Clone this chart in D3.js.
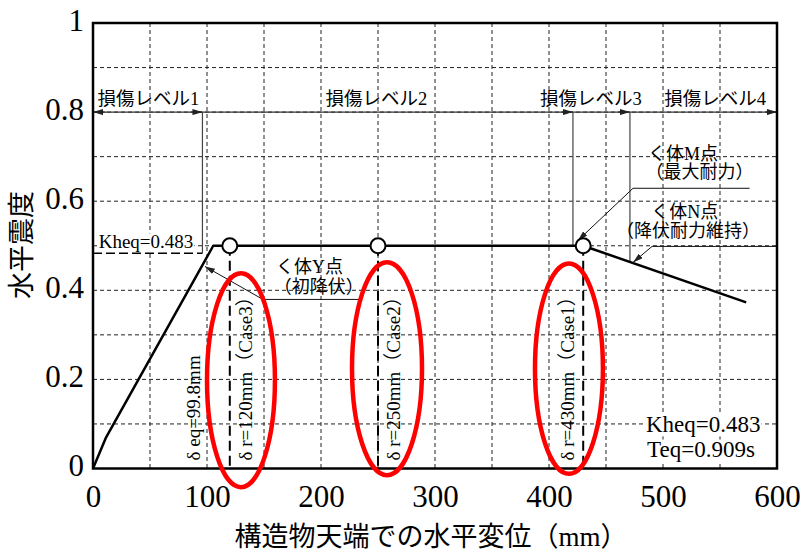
<!DOCTYPE html>
<html>
<head>
<meta charset="utf-8">
<script src="https://cdn.jsdelivr.net/npm/d3@7"></script>
<style>
    body { margin: 0; background: #fff; }
    text { font-family: "Liberation Serif", "Noto Sans CJK JP", serif; fill: #000; }
</style>
</head>
<body>
<svg id="chart" width="802" height="554"></svg>
<script>
// Load-displacement curve (top displacement mm, seismic coefficient)
const curveDisp = [0, 11.5, 105.5, 120, 250, 430, 573];
const curveK = [0, 0.07, 0.5, 0.5, 0.5, 0.5, 0.373];

// Marked points (Case3, Case2, Case1)
const pointDisp = [120, 250, 430];
const pointK = [0.5, 0.5, 0.5];
const caseNames = ["Case3", "Case2", "Case1"];

// Equivalent values
const deq = 99.8;
const kheq = 0.483;
const teq = 0.909;

// Damage levels
const levelNames = ["損傷レベル1", "損傷レベル2", "損傷レベル3", "損傷レベル4"];
const levelBounds = [96, 421, 471];
const levelBoundEndK = [0.483, 0.5, 0.464];
const levelLineK = 0.8;

// Red ellipses around cases (data units)
const ellipseCx = [129.8, 257.9, 417.5];
const ellipseCy = [0.198, 0.224, 0.224];
const ellipseRx = [29.8, 30.7, 29.8];
const ellipseRy = [0.240, 0.239, 0.236];

// Axis ticks
const xTicks = [0, 100, 200, 300, 400, 500, 600];
const yTicks = [0, 0.2, 0.4, 0.6, 0.8, 1];
const yTickLabels = ["0", "0.2", "0.4", "0.6", "0.8", "1"];
const xGrid = d3.range(50, 600, 50);
const yGrid = d3.range(1, 10).map(i => i / 10);

const margin = { top: 23, left: 93 },
      width = 684,
      height = 445.5;

const svg = d3.select("#chart");
svg.append("rect").attr("width", 802).attr("height", 554).attr("fill", "#fff");

const defs = svg.append("defs");
defs.append("marker")
    .attr("id", "arr")
    .attr("viewBox", "0 0 10 6")
    .attr("refX", 10).attr("refY", 3)
    .attr("markerWidth", 10).attr("markerHeight", 6)
    .attr("markerUnits", "userSpaceOnUse")
    .attr("orient", "auto")
    .append("path").attr("d", "M0,0 L10,3 L0,6 z").attr("fill", "#222");

const g = svg.append("g").attr("transform", `translate(${margin.left},${margin.top})`);

const x = d3.scaleLinear().domain([0, 600]).range([0, width]);
const y = d3.scaleLinear().domain([0, 1]).range([height, 0]);

// Grid
g.append("g").selectAll("line").data(xGrid).enter().append("line")
    .attr("x1", d => x(d)).attr("x2", d => x(d))
    .attr("y1", 0).attr("y2", height)
    .attr("stroke", "#222").attr("stroke-width", 1).attr("stroke-dasharray", "4,3");
g.append("g").selectAll("line").data(yGrid).enter().append("line")
    .attr("x1", 0).attr("x2", width)
    .attr("y1", d => y(d)).attr("y2", d => y(d))
    .attr("stroke", "#222").attr("stroke-width", 1).attr("stroke-dasharray", "4,3");

// Kheq dashed line
g.append("line")
    .attr("x1", 0).attr("x2", x(levelBounds[0]))
    .attr("y1", y(kheq)).attr("y2", y(kheq))
    .attr("stroke", "#000").attr("stroke-width", 1.5).attr("stroke-dasharray", "9,4");

// Damage level line with arrows
g.append("line")
    .attr("x1", 0).attr("x2", width)
    .attr("y1", y(levelLineK)).attr("y2", y(levelLineK))
    .attr("stroke", "#333").attr("stroke-width", 1.2);

const arrowX = [0].concat(levelBounds, [600]);
const arrowDir = [-1, 1, 1, 1, 1];
arrowX.forEach((d, i) => {
    g.append("line")
        .attr("x1", x(d) - arrowDir[i] * 12).attr("x2", x(d))
        .attr("y1", y(levelLineK)).attr("y2", y(levelLineK))
        .attr("stroke", "#333").attr("stroke-width", 1.2)
        .attr("marker-end", "url(#arr)");
});

levelBounds.forEach((d, i) => {
    g.append("line")
        .attr("x1", x(d)).attr("x2", x(d))
        .attr("y1", y(levelLineK)).attr("y2", y(levelBoundEndK[i]))
        .attr("stroke", "#444").attr("stroke-width", 1.2);
});

const levelLabelX = [4, 204, 392, 501];
levelNames.forEach((d, i) => {
    g.append("text")
        .attr("x", x(levelLabelX[i])).attr("y", y(0.816))
        .attr("font-size", 18.5)
        .text(d);
});

// Case dashed verticals
pointDisp.forEach((d, i) => {
    g.append("line")
        .attr("x1", x(d)).attr("x2", x(d))
        .attr("y1", y(pointK[i])).attr("y2", height)
        .attr("stroke", "#000").attr("stroke-width", 2).attr("stroke-dasharray", "10,5");
});

// Curve
const line = d3.line().x((d, i) => x(curveDisp[i])).y(d => y(d));
g.append("path")
    .datum(curveK)
    .attr("d", line)
    .attr("fill", "none")
    .attr("stroke", "#000")
    .attr("stroke-width", 2.5)
    .attr("stroke-linejoin", "round");

// Callouts
const callouts = [
    { tip: [98.2, 0.4536], elbow: [149.1, 0.3795], end: 236,
      lines: [{ t: "く体Y点", x: 190, k: 0.438 }, { t: "（初降伏）", x: 198, k: 0.395 }] },
    { tip: [425.4, 0.512], elbow: [473.7, 0.629], end: 576,
      lines: [{ t: "く体M点", x: 517.5, k: 0.692 }, { t: "（最大耐力）", x: 532, k: 0.651 }] },
    { tip: [473.7, 0.4626], elbow: [490.4, 0.4985], end: 600,
      lines: [{ t: "く体N点", x: 519, k: 0.5614 }, { t: "（降伏耐力維持）", x: 522, k: 0.5187 }] }
];
callouts.forEach(c => {
    g.append("line")
        .attr("x1", x(c.elbow[0])).attr("x2", x(c.end))
        .attr("y1", y(c.elbow[1])).attr("y2", y(c.elbow[1]))
        .attr("stroke", "#111").attr("stroke-width", 1);
    g.append("line")
        .attr("x1", x(c.elbow[0])).attr("y1", y(c.elbow[1]))
        .attr("x2", x(c.tip[0])).attr("y2", y(c.tip[1]))
        .attr("stroke", "#111").attr("stroke-width", 1)
        .attr("marker-end", "url(#arr)");
    c.lines.forEach(l => {
        g.append("text")
            .attr("x", x(l.x)).attr("y", y(l.k))
            .attr("text-anchor", "middle")
            .attr("font-size", 18)
            .text(l.t);
    });
});

// Points
g.selectAll(".pt").data(pointDisp).enter().append("circle")
    .attr("class", "pt")
    .attr("cx", d => x(d))
    .attr("cy", (d, i) => y(pointK[i]))
    .attr("r", 7.5)
    .attr("fill", "#fff")
    .attr("stroke", "#000")
    .attr("stroke-width", 2);

// Rotated labels
const caseLabelOffset = [22, 22, -9];
g.append("text")
    .attr("transform", `translate(${x(deq) - 7},${y(0.018)}) rotate(-90)`)
    .attr("font-size", 19)
    .text(`δ eq=${deq}mm`);
pointDisp.forEach((d, i) => {
    g.append("text")
        .attr("transform", `translate(${x(d) + caseLabelOffset[i]},${y(0.018)}) rotate(-90)`)
        .attr("font-size", 19)
        .text(`δ r=${d}mm（${caseNames[i]}）`);
});

// Labels with white background
function boxedText(tx, ty, str, size) {
    const t = g.append("text").attr("x", tx).attr("y", ty).attr("font-size", size).text(str);
    const b = t.node().getBBox();
    g.insert("rect", () => t.node())
        .attr("x", b.x - 1).attr("y", b.y + 2)
        .attr("width", b.width + 2).attr("height", b.height - 3)
        .attr("fill", "#fff");
    return t;
}
boxedText(x(5), y(0.494), `Kheq=${kheq}`, 19);
boxedText(x(485), y(0.081), `Kheq=${kheq}`, 23);
boxedText(x(486), y(0.0247), `Teq=${teq}s`, 23);

// Frame
g.append("rect")
    .attr("width", width).attr("height", height)
    .attr("fill", "none").attr("stroke", "#000").attr("stroke-width", 2.5);

// Axes
const xAxis = g.append("g")
    .attr("transform", `translate(0,${height})`)
    .call(d3.axisBottom(x).tickValues(xTicks).tickSize(0).tickPadding(16));
const yAxis = g.append("g")
    .call(d3.axisLeft(y).tickValues(yTicks).tickSize(0).tickPadding(9)
        .tickFormat((d, i) => yTickLabels[i]));
[xAxis, yAxis].forEach(a => {
    a.select(".domain").remove();
    a.selectAll("text")
        .style("font-family", "'Liberation Serif', 'Times New Roman', serif")
        .style("font-size", "31px")
        .style("fill", "#000");
});
yAxis.selectAll("text").attr("dy", "0.23em");

// Red ellipses
g.selectAll(".ell").data(ellipseCx).enter().append("ellipse")
    .attr("class", "ell")
    .attr("cx", d => x(d))
    .attr("cy", (d, i) => y(ellipseCy[i]))
    .attr("rx", (d, i) => x(ellipseRx[i]) - x(0))
    .attr("ry", (d, i) => y(0) - y(ellipseRy[i]))
    .attr("fill", "none")
    .attr("stroke", "#f00")
    .attr("stroke-width", 4.5);

// Axis titles
svg.append("text")
    .attr("x", 431).attr("y", 546)
    .attr("text-anchor", "middle")
    .attr("font-size", 27)
    .text("構造物天端での水平変位（mm）");
svg.append("text")
    .attr("transform", "translate(31,245) rotate(-90)")
    .attr("text-anchor", "middle")
    .attr("font-size", 27)
    .attr("fill", "#1a1a1a")
    .text("水平震度");
</script>
</body>
</html>
